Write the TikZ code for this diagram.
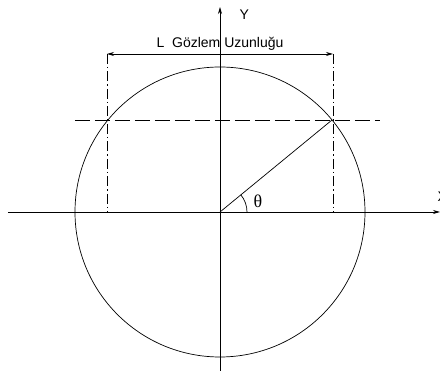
\documentclass[tikz,border=0pt]{standalone}
\usepackage{fontspec}
\setmainfont{Liberation Sans}
\newfontfamily\grfont{Liberation Serif}
\usetikzlibrary{arrows.meta,calc,angles,quotes,positioning}

\begin{document}
\begin{tikzpicture}[x=1pt,y=1pt,>={Stealth[length=7pt,width=4pt]},line width=0.7pt,
  font=\fontsize{14}{16}\selectfont,
  longdash/.style={dash pattern=on 15pt off 5pt},
  dashdot/.style={dash pattern=on 10pt off 3pt on 1.5pt off 3pt}]
  \useasboundingbox (-220,-162) rectangle (220,212);
  % axes
  \coordinate (O) at (0,0);
  \coordinate (xl) at (-212,0);
  \coordinate (xr) at (220,0);
  \coordinate (yb) at (0,-159);
  \coordinate (yt) at (0,205);
  \draw[->] (xl) -- (xr);
  \draw[->] (yb) -- (yt);
  \node[anchor=west] (ylab) at (16,197) {Y};
  \node[anchor=west] (xlab) at (214,15) {X};
  % circle and radius
  \draw (O) circle (145);
  \coordinate (P) at (112,92);
  \draw (O) -- (P);
  \draw pic[draw,angle radius=27] {angle=xr--O--P};
  \node[font=\grfont\fontsize{18}{20}\selectfont] (th) at (38,11) {θ};
  % horizontal dashed line
  \coordinate (hl) at (-145,92);
  \coordinate (hr) at (160,92);
  \draw[longdash] (hl) -- (hr);
  % observation length
  \coordinate (al) at (-113,158);
  \coordinate (ar) at (113,158);
  \coordinate (bl) at (-113,0);
  \coordinate (br) at (113,0);
  \draw[dashdot] (al) -- (bl);
  \draw[dashdot] (ar) -- (br);
  \draw[<->] (al) -- (ar);
  \node[above=0pt of $(al)!0.5!(ar)$] (len) {L\ \ Gözlem Uzunluğu};
\end{tikzpicture}
\end{document}
